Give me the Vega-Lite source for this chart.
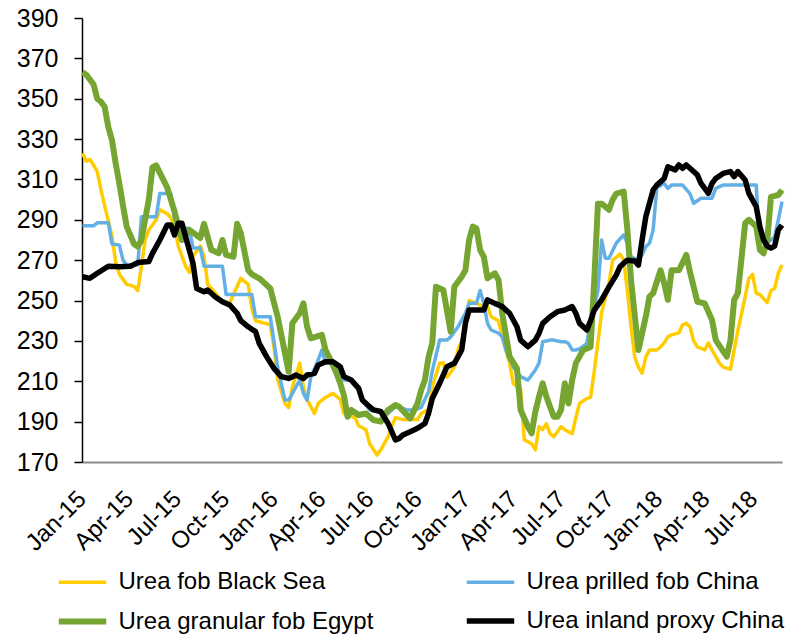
{
  "$schema": "https://vega.github.io/schema/vega-lite/v6.json",
  "width": 700,
  "height": 444,
  "autosize": {"type": "none"},
  "padding": {"left": 82, "top": 18, "right": 4, "bottom": 172},
  "background": "white",
  "config": {
    "font": "Liberation Sans",
    "view": {"stroke": null}
  },
  "data": {
    "values": [
      {"date": "2015-01-02", "series": "Urea fob Black Sea", "price": 323},
      {"date": "2015-01-09", "series": "Urea fob Black Sea", "price": 319},
      {"date": "2015-01-16", "series": "Urea fob Black Sea", "price": 320},
      {"date": "2015-01-30", "series": "Urea fob Black Sea", "price": 314},
      {"date": "2015-02-06", "series": "Urea fob Black Sea", "price": 305},
      {"date": "2015-02-13", "series": "Urea fob Black Sea", "price": 297},
      {"date": "2015-02-27", "series": "Urea fob Black Sea", "price": 282},
      {"date": "2015-03-06", "series": "Urea fob Black Sea", "price": 269},
      {"date": "2015-03-13", "series": "Urea fob Black Sea", "price": 263},
      {"date": "2015-03-27", "series": "Urea fob Black Sea", "price": 258},
      {"date": "2015-04-10", "series": "Urea fob Black Sea", "price": 257},
      {"date": "2015-04-17", "series": "Urea fob Black Sea", "price": 255},
      {"date": "2015-04-24", "series": "Urea fob Black Sea", "price": 267},
      {"date": "2015-05-01", "series": "Urea fob Black Sea", "price": 280},
      {"date": "2015-05-08", "series": "Urea fob Black Sea", "price": 285},
      {"date": "2015-05-22", "series": "Urea fob Black Sea", "price": 290},
      {"date": "2015-05-29", "series": "Urea fob Black Sea", "price": 295},
      {"date": "2015-06-12", "series": "Urea fob Black Sea", "price": 293},
      {"date": "2015-06-19", "series": "Urea fob Black Sea", "price": 291},
      {"date": "2015-06-26", "series": "Urea fob Black Sea", "price": 287},
      {"date": "2015-07-03", "series": "Urea fob Black Sea", "price": 277},
      {"date": "2015-07-17", "series": "Urea fob Black Sea", "price": 267},
      {"date": "2015-07-24", "series": "Urea fob Black Sea", "price": 264},
      {"date": "2015-07-31", "series": "Urea fob Black Sea", "price": 272},
      {"date": "2015-08-14", "series": "Urea fob Black Sea", "price": 277},
      {"date": "2015-08-21", "series": "Urea fob Black Sea", "price": 272},
      {"date": "2015-08-28", "series": "Urea fob Black Sea", "price": 258},
      {"date": "2015-09-11", "series": "Urea fob Black Sea", "price": 254},
      {"date": "2015-09-25", "series": "Urea fob Black Sea", "price": 249},
      {"date": "2015-10-09", "series": "Urea fob Black Sea", "price": 249},
      {"date": "2015-10-23", "series": "Urea fob Black Sea", "price": 257},
      {"date": "2015-10-30", "series": "Urea fob Black Sea", "price": 261},
      {"date": "2015-11-13", "series": "Urea fob Black Sea", "price": 258},
      {"date": "2015-11-20", "series": "Urea fob Black Sea", "price": 246},
      {"date": "2015-11-27", "series": "Urea fob Black Sea", "price": 240},
      {"date": "2015-12-11", "series": "Urea fob Black Sea", "price": 239},
      {"date": "2015-12-25", "series": "Urea fob Black Sea", "price": 238},
      {"date": "2016-01-01", "series": "Urea fob Black Sea", "price": 227},
      {"date": "2016-01-08", "series": "Urea fob Black Sea", "price": 211},
      {"date": "2016-01-22", "series": "Urea fob Black Sea", "price": 199},
      {"date": "2016-01-29", "series": "Urea fob Black Sea", "price": 197},
      {"date": "2016-02-05", "series": "Urea fob Black Sea", "price": 207},
      {"date": "2016-02-19", "series": "Urea fob Black Sea", "price": 219},
      {"date": "2016-02-26", "series": "Urea fob Black Sea", "price": 207},
      {"date": "2016-03-04", "series": "Urea fob Black Sea", "price": 201},
      {"date": "2016-03-18", "series": "Urea fob Black Sea", "price": 194},
      {"date": "2016-03-25", "series": "Urea fob Black Sea", "price": 199},
      {"date": "2016-04-08", "series": "Urea fob Black Sea", "price": 202},
      {"date": "2016-04-22", "series": "Urea fob Black Sea", "price": 204},
      {"date": "2016-05-06", "series": "Urea fob Black Sea", "price": 201},
      {"date": "2016-05-13", "series": "Urea fob Black Sea", "price": 194},
      {"date": "2016-06-03", "series": "Urea fob Black Sea", "price": 192},
      {"date": "2016-06-10", "series": "Urea fob Black Sea", "price": 188},
      {"date": "2016-06-24", "series": "Urea fob Black Sea", "price": 186},
      {"date": "2016-07-01", "series": "Urea fob Black Sea", "price": 179},
      {"date": "2016-07-15", "series": "Urea fob Black Sea", "price": 173.5},
      {"date": "2016-07-22", "series": "Urea fob Black Sea", "price": 176},
      {"date": "2016-08-05", "series": "Urea fob Black Sea", "price": 182.5},
      {"date": "2016-08-12", "series": "Urea fob Black Sea", "price": 187.5},
      {"date": "2016-08-19", "series": "Urea fob Black Sea", "price": 192},
      {"date": "2016-09-02", "series": "Urea fob Black Sea", "price": 191},
      {"date": "2016-09-16", "series": "Urea fob Black Sea", "price": 191},
      {"date": "2016-09-30", "series": "Urea fob Black Sea", "price": 191},
      {"date": "2016-10-07", "series": "Urea fob Black Sea", "price": 194},
      {"date": "2016-10-21", "series": "Urea fob Black Sea", "price": 196},
      {"date": "2016-10-28", "series": "Urea fob Black Sea", "price": 207},
      {"date": "2016-11-11", "series": "Urea fob Black Sea", "price": 219},
      {"date": "2016-11-18", "series": "Urea fob Black Sea", "price": 219},
      {"date": "2016-11-25", "series": "Urea fob Black Sea", "price": 212},
      {"date": "2016-12-09", "series": "Urea fob Black Sea", "price": 217},
      {"date": "2016-12-16", "series": "Urea fob Black Sea", "price": 225.5},
      {"date": "2016-12-30", "series": "Urea fob Black Sea", "price": 235},
      {"date": "2017-01-06", "series": "Urea fob Black Sea", "price": 250},
      {"date": "2017-01-20", "series": "Urea fob Black Sea", "price": 248.6},
      {"date": "2017-02-03", "series": "Urea fob Black Sea", "price": 247},
      {"date": "2017-02-10", "series": "Urea fob Black Sea", "price": 247},
      {"date": "2017-02-17", "series": "Urea fob Black Sea", "price": 242},
      {"date": "2017-03-03", "series": "Urea fob Black Sea", "price": 240},
      {"date": "2017-03-10", "series": "Urea fob Black Sea", "price": 232},
      {"date": "2017-03-24", "series": "Urea fob Black Sea", "price": 219},
      {"date": "2017-03-31", "series": "Urea fob Black Sea", "price": 209},
      {"date": "2017-04-14", "series": "Urea fob Black Sea", "price": 206},
      {"date": "2017-04-21", "series": "Urea fob Black Sea", "price": 181},
      {"date": "2017-05-05", "series": "Urea fob Black Sea", "price": 179},
      {"date": "2017-05-12", "series": "Urea fob Black Sea", "price": 176},
      {"date": "2017-05-19", "series": "Urea fob Black Sea", "price": 187.5},
      {"date": "2017-05-26", "series": "Urea fob Black Sea", "price": 186},
      {"date": "2017-06-02", "series": "Urea fob Black Sea", "price": 189},
      {"date": "2017-06-09", "series": "Urea fob Black Sea", "price": 184},
      {"date": "2017-06-16", "series": "Urea fob Black Sea", "price": 182.5},
      {"date": "2017-06-30", "series": "Urea fob Black Sea", "price": 187.5},
      {"date": "2017-07-07", "series": "Urea fob Black Sea", "price": 186},
      {"date": "2017-07-21", "series": "Urea fob Black Sea", "price": 184},
      {"date": "2017-07-28", "series": "Urea fob Black Sea", "price": 192},
      {"date": "2017-08-04", "series": "Urea fob Black Sea", "price": 199},
      {"date": "2017-08-18", "series": "Urea fob Black Sea", "price": 201.5},
      {"date": "2017-08-25", "series": "Urea fob Black Sea", "price": 202},
      {"date": "2017-09-01", "series": "Urea fob Black Sea", "price": 215},
      {"date": "2017-09-15", "series": "Urea fob Black Sea", "price": 244},
      {"date": "2017-09-29", "series": "Urea fob Black Sea", "price": 258.5},
      {"date": "2017-10-06", "series": "Urea fob Black Sea", "price": 270},
      {"date": "2017-10-20", "series": "Urea fob Black Sea", "price": 273},
      {"date": "2017-10-27", "series": "Urea fob Black Sea", "price": 270},
      {"date": "2017-11-03", "series": "Urea fob Black Sea", "price": 255},
      {"date": "2017-11-10", "series": "Urea fob Black Sea", "price": 237},
      {"date": "2017-11-17", "series": "Urea fob Black Sea", "price": 222},
      {"date": "2017-11-24", "series": "Urea fob Black Sea", "price": 217},
      {"date": "2017-12-01", "series": "Urea fob Black Sea", "price": 214},
      {"date": "2017-12-08", "series": "Urea fob Black Sea", "price": 222},
      {"date": "2017-12-15", "series": "Urea fob Black Sea", "price": 225.5},
      {"date": "2017-12-29", "series": "Urea fob Black Sea", "price": 225.5},
      {"date": "2018-01-05", "series": "Urea fob Black Sea", "price": 227},
      {"date": "2018-01-12", "series": "Urea fob Black Sea", "price": 229},
      {"date": "2018-01-19", "series": "Urea fob Black Sea", "price": 232},
      {"date": "2018-01-26", "series": "Urea fob Black Sea", "price": 233},
      {"date": "2018-02-09", "series": "Urea fob Black Sea", "price": 234},
      {"date": "2018-02-16", "series": "Urea fob Black Sea", "price": 238},
      {"date": "2018-02-23", "series": "Urea fob Black Sea", "price": 238.7},
      {"date": "2018-03-02", "series": "Urea fob Black Sea", "price": 237},
      {"date": "2018-03-09", "series": "Urea fob Black Sea", "price": 230},
      {"date": "2018-03-16", "series": "Urea fob Black Sea", "price": 227},
      {"date": "2018-03-30", "series": "Urea fob Black Sea", "price": 225.5},
      {"date": "2018-04-06", "series": "Urea fob Black Sea", "price": 229},
      {"date": "2018-04-13", "series": "Urea fob Black Sea", "price": 225.5},
      {"date": "2018-04-27", "series": "Urea fob Black Sea", "price": 219},
      {"date": "2018-05-04", "series": "Urea fob Black Sea", "price": 217},
      {"date": "2018-05-18", "series": "Urea fob Black Sea", "price": 216},
      {"date": "2018-05-25", "series": "Urea fob Black Sea", "price": 225.5},
      {"date": "2018-06-01", "series": "Urea fob Black Sea", "price": 235},
      {"date": "2018-06-15", "series": "Urea fob Black Sea", "price": 252},
      {"date": "2018-06-22", "series": "Urea fob Black Sea", "price": 261},
      {"date": "2018-06-29", "series": "Urea fob Black Sea", "price": 263},
      {"date": "2018-07-06", "series": "Urea fob Black Sea", "price": 253.6},
      {"date": "2018-07-13", "series": "Urea fob Black Sea", "price": 253},
      {"date": "2018-07-27", "series": "Urea fob Black Sea", "price": 249},
      {"date": "2018-08-03", "series": "Urea fob Black Sea", "price": 255},
      {"date": "2018-08-10", "series": "Urea fob Black Sea", "price": 256},
      {"date": "2018-08-17", "series": "Urea fob Black Sea", "price": 263.5},
      {"date": "2018-08-24", "series": "Urea fob Black Sea", "price": 267.6},

      {"date": "2015-01-02", "series": "Urea prilled fob China", "price": 287},
      {"date": "2015-01-23", "series": "Urea prilled fob China", "price": 287},
      {"date": "2015-01-30", "series": "Urea prilled fob China", "price": 288.5},
      {"date": "2015-02-20", "series": "Urea prilled fob China", "price": 288.5},
      {"date": "2015-02-27", "series": "Urea prilled fob China", "price": 278},
      {"date": "2015-03-13", "series": "Urea prilled fob China", "price": 277.5},
      {"date": "2015-03-20", "series": "Urea prilled fob China", "price": 270},
      {"date": "2015-03-27", "series": "Urea prilled fob China", "price": 267.6},
      {"date": "2015-04-17", "series": "Urea prilled fob China", "price": 267.6},
      {"date": "2015-04-24", "series": "Urea prilled fob China", "price": 291.5},
      {"date": "2015-05-22", "series": "Urea prilled fob China", "price": 291.5},
      {"date": "2015-05-29", "series": "Urea prilled fob China", "price": 303},
      {"date": "2015-06-19", "series": "Urea prilled fob China", "price": 303},
      {"date": "2015-06-26", "series": "Urea prilled fob China", "price": 290},
      {"date": "2015-07-03", "series": "Urea prilled fob China", "price": 286},
      {"date": "2015-07-24", "series": "Urea prilled fob China", "price": 285.7},
      {"date": "2015-07-31", "series": "Urea prilled fob China", "price": 276},
      {"date": "2015-08-14", "series": "Urea prilled fob China", "price": 276},
      {"date": "2015-08-21", "series": "Urea prilled fob China", "price": 267},
      {"date": "2015-09-25", "series": "Urea prilled fob China", "price": 267},
      {"date": "2015-10-02", "series": "Urea prilled fob China", "price": 253},
      {"date": "2015-11-20", "series": "Urea prilled fob China", "price": 253},
      {"date": "2015-11-27", "series": "Urea prilled fob China", "price": 242},
      {"date": "2015-12-25", "series": "Urea prilled fob China", "price": 242},
      {"date": "2016-01-01", "series": "Urea prilled fob China", "price": 230},
      {"date": "2016-01-08", "series": "Urea prilled fob China", "price": 217},
      {"date": "2016-01-22", "series": "Urea prilled fob China", "price": 200.7},
      {"date": "2016-01-29", "series": "Urea prilled fob China", "price": 200.7},
      {"date": "2016-02-05", "series": "Urea prilled fob China", "price": 204},
      {"date": "2016-02-19", "series": "Urea prilled fob China", "price": 210.6},
      {"date": "2016-02-26", "series": "Urea prilled fob China", "price": 204},
      {"date": "2016-03-04", "series": "Urea prilled fob China", "price": 200.7},
      {"date": "2016-03-11", "series": "Urea prilled fob China", "price": 212},
      {"date": "2016-03-25", "series": "Urea prilled fob China", "price": 220.5},
      {"date": "2016-04-01", "series": "Urea prilled fob China", "price": 225.5},
      {"date": "2016-04-08", "series": "Urea prilled fob China", "price": 219},
      {"date": "2016-04-22", "series": "Urea prilled fob China", "price": 219},
      {"date": "2016-04-29", "series": "Urea prilled fob China", "price": 217},
      {"date": "2016-05-13", "series": "Urea prilled fob China", "price": 210.6},
      {"date": "2016-05-27", "series": "Urea prilled fob China", "price": 210.6},
      {"date": "2016-06-10", "series": "Urea prilled fob China", "price": 207.3},
      {"date": "2016-06-17", "series": "Urea prilled fob China", "price": 200.7},
      {"date": "2016-07-01", "series": "Urea prilled fob China", "price": 195.8},
      {"date": "2016-07-15", "series": "Urea prilled fob China", "price": 195.8},
      {"date": "2016-07-29", "series": "Urea prilled fob China", "price": 194},
      {"date": "2016-08-05", "series": "Urea prilled fob China", "price": 194},
      {"date": "2016-08-19", "series": "Urea prilled fob China", "price": 197.4},
      {"date": "2016-08-26", "series": "Urea prilled fob China", "price": 197.4},
      {"date": "2016-09-09", "series": "Urea prilled fob China", "price": 195.8},
      {"date": "2016-09-23", "series": "Urea prilled fob China", "price": 195.8},
      {"date": "2016-10-07", "series": "Urea prilled fob China", "price": 197},
      {"date": "2016-10-21", "series": "Urea prilled fob China", "price": 205},
      {"date": "2016-10-28", "series": "Urea prilled fob China", "price": 215},
      {"date": "2016-11-11", "series": "Urea prilled fob China", "price": 230.4},
      {"date": "2016-11-25", "series": "Urea prilled fob China", "price": 230.4},
      {"date": "2016-12-02", "series": "Urea prilled fob China", "price": 232},
      {"date": "2016-12-16", "series": "Urea prilled fob China", "price": 237},
      {"date": "2016-12-30", "series": "Urea prilled fob China", "price": 243.7},
      {"date": "2017-01-06", "series": "Urea prilled fob China", "price": 248.6},
      {"date": "2017-01-20", "series": "Urea prilled fob China", "price": 248.6},
      {"date": "2017-01-27", "series": "Urea prilled fob China", "price": 255},
      {"date": "2017-02-03", "series": "Urea prilled fob China", "price": 248.6},
      {"date": "2017-02-10", "series": "Urea prilled fob China", "price": 238.7},
      {"date": "2017-02-17", "series": "Urea prilled fob China", "price": 235.4},
      {"date": "2017-03-03", "series": "Urea prilled fob China", "price": 233.8},
      {"date": "2017-03-10", "series": "Urea prilled fob China", "price": 232},
      {"date": "2017-03-17", "series": "Urea prilled fob China", "price": 225.5},
      {"date": "2017-03-31", "series": "Urea prilled fob China", "price": 217},
      {"date": "2017-04-14", "series": "Urea prilled fob China", "price": 212.3},
      {"date": "2017-04-28", "series": "Urea prilled fob China", "price": 210.6},
      {"date": "2017-05-12", "series": "Urea prilled fob China", "price": 215.6},
      {"date": "2017-05-19", "series": "Urea prilled fob China", "price": 219},
      {"date": "2017-05-26", "series": "Urea prilled fob China", "price": 229.6},
      {"date": "2017-06-09", "series": "Urea prilled fob China", "price": 230.4},
      {"date": "2017-06-16", "series": "Urea prilled fob China", "price": 230.4},
      {"date": "2017-06-30", "series": "Urea prilled fob China", "price": 229.6},
      {"date": "2017-07-07", "series": "Urea prilled fob China", "price": 229.6},
      {"date": "2017-07-14", "series": "Urea prilled fob China", "price": 228.8},
      {"date": "2017-07-21", "series": "Urea prilled fob China", "price": 225.5},
      {"date": "2017-07-28", "series": "Urea prilled fob China", "price": 225.5},
      {"date": "2017-08-04", "series": "Urea prilled fob China", "price": 226},
      {"date": "2017-08-18", "series": "Urea prilled fob China", "price": 228.8},
      {"date": "2017-08-25", "series": "Urea prilled fob China", "price": 241},
      {"date": "2017-09-01", "series": "Urea prilled fob China", "price": 247},
      {"date": "2017-09-08", "series": "Urea prilled fob China", "price": 255},
      {"date": "2017-09-15", "series": "Urea prilled fob China", "price": 280},
      {"date": "2017-09-22", "series": "Urea prilled fob China", "price": 271},
      {"date": "2017-09-29", "series": "Urea prilled fob China", "price": 271},
      {"date": "2017-10-13", "series": "Urea prilled fob China", "price": 278.5},
      {"date": "2017-10-27", "series": "Urea prilled fob China", "price": 282.5},
      {"date": "2017-11-03", "series": "Urea prilled fob China", "price": 278.4},
      {"date": "2017-11-10", "series": "Urea prilled fob China", "price": 271.7},
      {"date": "2017-11-24", "series": "Urea prilled fob China", "price": 270},
      {"date": "2017-12-01", "series": "Urea prilled fob China", "price": 272.6},
      {"date": "2017-12-08", "series": "Urea prilled fob China", "price": 276.7},
      {"date": "2017-12-15", "series": "Urea prilled fob China", "price": 278.4},
      {"date": "2017-12-22", "series": "Urea prilled fob China", "price": 285},
      {"date": "2017-12-29", "series": "Urea prilled fob China", "price": 306},
      {"date": "2018-01-12", "series": "Urea prilled fob China", "price": 308},
      {"date": "2018-01-19", "series": "Urea prilled fob China", "price": 305.6},
      {"date": "2018-01-26", "series": "Urea prilled fob China", "price": 307.2},
      {"date": "2018-02-16", "series": "Urea prilled fob China", "price": 307.2},
      {"date": "2018-03-02", "series": "Urea prilled fob China", "price": 303},
      {"date": "2018-03-09", "series": "Urea prilled fob China", "price": 298.2},
      {"date": "2018-03-23", "series": "Urea prilled fob China", "price": 300.7},
      {"date": "2018-04-13", "series": "Urea prilled fob China", "price": 300.7},
      {"date": "2018-04-20", "series": "Urea prilled fob China", "price": 305.6},
      {"date": "2018-05-04", "series": "Urea prilled fob China", "price": 307.2},
      {"date": "2018-07-06", "series": "Urea prilled fob China", "price": 307.2},
      {"date": "2018-07-13", "series": "Urea prilled fob China", "price": 275},
      {"date": "2018-07-20", "series": "Urea prilled fob China", "price": 275},
      {"date": "2018-07-27", "series": "Urea prilled fob China", "price": 278.4},
      {"date": "2018-08-10", "series": "Urea prilled fob China", "price": 281.6},
      {"date": "2018-08-17", "series": "Urea prilled fob China", "price": 290},
      {"date": "2018-08-24", "series": "Urea prilled fob China", "price": 299},

      {"date": "2015-01-02", "series": "Urea granular fob Egypt", "price": 363},
      {"date": "2015-01-09", "series": "Urea granular fob Egypt", "price": 362},
      {"date": "2015-01-23", "series": "Urea granular fob Egypt", "price": 357},
      {"date": "2015-01-30", "series": "Urea granular fob Egypt", "price": 350},
      {"date": "2015-02-06", "series": "Urea granular fob Egypt", "price": 348.5},
      {"date": "2015-02-13", "series": "Urea granular fob Egypt", "price": 346},
      {"date": "2015-02-20", "series": "Urea granular fob Egypt", "price": 336},
      {"date": "2015-02-27", "series": "Urea granular fob Egypt", "price": 329.5},
      {"date": "2015-03-06", "series": "Urea granular fob Egypt", "price": 318},
      {"date": "2015-03-13", "series": "Urea granular fob Egypt", "price": 308},
      {"date": "2015-03-20", "series": "Urea granular fob Egypt", "price": 297},
      {"date": "2015-03-27", "series": "Urea granular fob Egypt", "price": 286.6},
      {"date": "2015-04-10", "series": "Urea granular fob Egypt", "price": 278},
      {"date": "2015-04-17", "series": "Urea granular fob Egypt", "price": 276.7},
      {"date": "2015-04-24", "series": "Urea granular fob Egypt", "price": 280},
      {"date": "2015-05-08", "series": "Urea granular fob Egypt", "price": 300},
      {"date": "2015-05-15", "series": "Urea granular fob Egypt", "price": 316},
      {"date": "2015-05-22", "series": "Urea granular fob Egypt", "price": 317},
      {"date": "2015-06-05", "series": "Urea granular fob Egypt", "price": 309.7},
      {"date": "2015-06-12", "series": "Urea granular fob Egypt", "price": 306},
      {"date": "2015-06-26", "series": "Urea granular fob Egypt", "price": 294},
      {"date": "2015-07-10", "series": "Urea granular fob Egypt", "price": 280},
      {"date": "2015-07-24", "series": "Urea granular fob Egypt", "price": 285},
      {"date": "2015-08-14", "series": "Urea granular fob Egypt", "price": 281},
      {"date": "2015-08-21", "series": "Urea granular fob Egypt", "price": 288},
      {"date": "2015-09-04", "series": "Urea granular fob Egypt", "price": 275},
      {"date": "2015-09-18", "series": "Urea granular fob Egypt", "price": 273.5},
      {"date": "2015-09-25", "series": "Urea granular fob Egypt", "price": 280},
      {"date": "2015-10-02", "series": "Urea granular fob Egypt", "price": 272.6},
      {"date": "2015-10-16", "series": "Urea granular fob Egypt", "price": 271.7},
      {"date": "2015-10-23", "series": "Urea granular fob Egypt", "price": 288},
      {"date": "2015-10-30", "series": "Urea granular fob Egypt", "price": 283.3},
      {"date": "2015-11-13", "series": "Urea granular fob Egypt", "price": 265},
      {"date": "2015-11-20", "series": "Urea granular fob Egypt", "price": 263},
      {"date": "2015-11-27", "series": "Urea granular fob Egypt", "price": 262},
      {"date": "2015-12-04", "series": "Urea granular fob Egypt", "price": 261},
      {"date": "2015-12-18", "series": "Urea granular fob Egypt", "price": 257.7},
      {"date": "2015-12-25", "series": "Urea granular fob Egypt", "price": 256},
      {"date": "2016-01-08", "series": "Urea granular fob Egypt", "price": 242},
      {"date": "2016-01-22", "series": "Urea granular fob Egypt", "price": 223.8},
      {"date": "2016-01-29", "series": "Urea granular fob Egypt", "price": 214.7},
      {"date": "2016-02-05", "series": "Urea granular fob Egypt", "price": 238.7},
      {"date": "2016-02-19", "series": "Urea granular fob Egypt", "price": 243.7},
      {"date": "2016-02-26", "series": "Urea granular fob Egypt", "price": 248.6},
      {"date": "2016-03-04", "series": "Urea granular fob Egypt", "price": 237},
      {"date": "2016-03-11", "series": "Urea granular fob Egypt", "price": 231.3},
      {"date": "2016-04-01", "series": "Urea granular fob Egypt", "price": 233},
      {"date": "2016-04-08", "series": "Urea granular fob Egypt", "price": 225.5},
      {"date": "2016-04-15", "series": "Urea granular fob Egypt", "price": 222},
      {"date": "2016-04-29", "series": "Urea granular fob Egypt", "price": 214},
      {"date": "2016-05-06", "series": "Urea granular fob Egypt", "price": 209},
      {"date": "2016-05-13", "series": "Urea granular fob Egypt", "price": 203},
      {"date": "2016-05-20", "series": "Urea granular fob Egypt", "price": 192.4},
      {"date": "2016-05-27", "series": "Urea granular fob Egypt", "price": 195.8},
      {"date": "2016-06-10", "series": "Urea granular fob Egypt", "price": 193.3},
      {"date": "2016-06-24", "series": "Urea granular fob Egypt", "price": 194},
      {"date": "2016-07-08", "series": "Urea granular fob Egypt", "price": 190.8},
      {"date": "2016-07-22", "series": "Urea granular fob Egypt", "price": 190},
      {"date": "2016-08-05", "series": "Urea granular fob Egypt", "price": 195.8},
      {"date": "2016-08-19", "series": "Urea granular fob Egypt", "price": 198.2},
      {"date": "2016-08-26", "series": "Urea granular fob Egypt", "price": 197.4},
      {"date": "2016-09-16", "series": "Urea granular fob Egypt", "price": 191.6},
      {"date": "2016-09-30", "series": "Urea granular fob Egypt", "price": 199},
      {"date": "2016-10-07", "series": "Urea granular fob Egypt", "price": 205.7},
      {"date": "2016-10-14", "series": "Urea granular fob Egypt", "price": 210.6},
      {"date": "2016-10-21", "series": "Urea granular fob Egypt", "price": 222},
      {"date": "2016-10-28", "series": "Urea granular fob Egypt", "price": 229},
      {"date": "2016-11-04", "series": "Urea granular fob Egypt", "price": 256.8},
      {"date": "2016-11-18", "series": "Urea granular fob Egypt", "price": 255.2},
      {"date": "2016-12-02", "series": "Urea granular fob Egypt", "price": 234.6},
      {"date": "2016-12-09", "series": "Urea granular fob Egypt", "price": 256.8},
      {"date": "2016-12-23", "series": "Urea granular fob Egypt", "price": 261.8},
      {"date": "2016-12-30", "series": "Urea granular fob Egypt", "price": 265},
      {"date": "2017-01-06", "series": "Urea granular fob Egypt", "price": 280},
      {"date": "2017-01-13", "series": "Urea granular fob Egypt", "price": 286.6},
      {"date": "2017-01-20", "series": "Urea granular fob Egypt", "price": 285.7},
      {"date": "2017-01-27", "series": "Urea granular fob Egypt", "price": 275},
      {"date": "2017-02-03", "series": "Urea granular fob Egypt", "price": 271.7},
      {"date": "2017-02-10", "series": "Urea granular fob Egypt", "price": 261},
      {"date": "2017-02-24", "series": "Urea granular fob Egypt", "price": 263.5},
      {"date": "2017-03-03", "series": "Urea granular fob Egypt", "price": 260.2},
      {"date": "2017-03-10", "series": "Urea granular fob Egypt", "price": 243.7},
      {"date": "2017-03-24", "series": "Urea granular fob Egypt", "price": 222.2},
      {"date": "2017-04-07", "series": "Urea granular fob Egypt", "price": 216.4},
      {"date": "2017-04-14", "series": "Urea granular fob Egypt", "price": 195.8},
      {"date": "2017-04-28", "series": "Urea granular fob Egypt", "price": 187.5},
      {"date": "2017-05-05", "series": "Urea granular fob Egypt", "price": 184.2},
      {"date": "2017-05-12", "series": "Urea granular fob Egypt", "price": 195},
      {"date": "2017-05-19", "series": "Urea granular fob Egypt", "price": 202.3},
      {"date": "2017-05-26", "series": "Urea granular fob Egypt", "price": 209},
      {"date": "2017-06-02", "series": "Urea granular fob Egypt", "price": 202.3},
      {"date": "2017-06-16", "series": "Urea granular fob Egypt", "price": 192.4},
      {"date": "2017-06-23", "series": "Urea granular fob Egypt", "price": 192.4},
      {"date": "2017-06-30", "series": "Urea granular fob Egypt", "price": 195.8},
      {"date": "2017-07-07", "series": "Urea granular fob Egypt", "price": 209},
      {"date": "2017-07-14", "series": "Urea granular fob Egypt", "price": 199},
      {"date": "2017-07-21", "series": "Urea granular fob Egypt", "price": 210.6},
      {"date": "2017-07-28", "series": "Urea granular fob Egypt", "price": 219},
      {"date": "2017-08-11", "series": "Urea granular fob Egypt", "price": 225.5},
      {"date": "2017-08-25", "series": "Urea granular fob Egypt", "price": 227},
      {"date": "2017-09-01", "series": "Urea granular fob Egypt", "price": 260},
      {"date": "2017-09-08", "series": "Urea granular fob Egypt", "price": 298},
      {"date": "2017-09-15", "series": "Urea granular fob Egypt", "price": 298},
      {"date": "2017-09-29", "series": "Urea granular fob Egypt", "price": 295},
      {"date": "2017-10-06", "series": "Urea granular fob Egypt", "price": 300},
      {"date": "2017-10-13", "series": "Urea granular fob Egypt", "price": 303},
      {"date": "2017-10-27", "series": "Urea granular fob Egypt", "price": 304},
      {"date": "2017-11-03", "series": "Urea granular fob Egypt", "price": 285},
      {"date": "2017-11-10", "series": "Urea granular fob Egypt", "price": 260},
      {"date": "2017-11-24", "series": "Urea granular fob Egypt", "price": 225.5},
      {"date": "2017-12-08", "series": "Urea granular fob Egypt", "price": 242},
      {"date": "2017-12-15", "series": "Urea granular fob Egypt", "price": 252},
      {"date": "2017-12-22", "series": "Urea granular fob Egypt", "price": 253.6},
      {"date": "2018-01-05", "series": "Urea granular fob Egypt", "price": 265},
      {"date": "2018-01-12", "series": "Urea granular fob Egypt", "price": 258.5},
      {"date": "2018-01-19", "series": "Urea granular fob Egypt", "price": 250.3},
      {"date": "2018-01-26", "series": "Urea granular fob Egypt", "price": 265},
      {"date": "2018-02-09", "series": "Urea granular fob Egypt", "price": 265},
      {"date": "2018-02-23", "series": "Urea granular fob Egypt", "price": 272.6},
      {"date": "2018-03-02", "series": "Urea granular fob Egypt", "price": 264.3},
      {"date": "2018-03-16", "series": "Urea granular fob Egypt", "price": 249.4},
      {"date": "2018-03-30", "series": "Urea granular fob Egypt", "price": 248.6},
      {"date": "2018-04-13", "series": "Urea granular fob Egypt", "price": 240.3},
      {"date": "2018-04-20", "series": "Urea granular fob Egypt", "price": 230.4},
      {"date": "2018-05-11", "series": "Urea granular fob Egypt", "price": 222.2},
      {"date": "2018-05-18", "series": "Urea granular fob Egypt", "price": 230.4},
      {"date": "2018-05-25", "series": "Urea granular fob Egypt", "price": 250.3},
      {"date": "2018-06-01", "series": "Urea granular fob Egypt", "price": 253.6},
      {"date": "2018-06-15", "series": "Urea granular fob Egypt", "price": 288.3},
      {"date": "2018-06-22", "series": "Urea granular fob Egypt", "price": 290},
      {"date": "2018-07-06", "series": "Urea granular fob Egypt", "price": 286.6},
      {"date": "2018-07-13", "series": "Urea granular fob Egypt", "price": 275},
      {"date": "2018-07-20", "series": "Urea granular fob Egypt", "price": 273.4},
      {"date": "2018-07-27", "series": "Urea granular fob Egypt", "price": 280},
      {"date": "2018-08-03", "series": "Urea granular fob Egypt", "price": 301.4},
      {"date": "2018-08-17", "series": "Urea granular fob Egypt", "price": 302.3},
      {"date": "2018-08-24", "series": "Urea granular fob Egypt", "price": 304.8},

      {"date": "2015-01-02", "series": "Urea inland proxy China", "price": 261.8},
      {"date": "2015-01-16", "series": "Urea inland proxy China", "price": 261},
      {"date": "2015-01-30", "series": "Urea inland proxy China", "price": 263.5},
      {"date": "2015-02-20", "series": "Urea inland proxy China", "price": 267},
      {"date": "2015-03-13", "series": "Urea inland proxy China", "price": 266.8},
      {"date": "2015-04-03", "series": "Urea inland proxy China", "price": 267},
      {"date": "2015-04-17", "series": "Urea inland proxy China", "price": 268.8},
      {"date": "2015-05-08", "series": "Urea inland proxy China", "price": 269.3},
      {"date": "2015-05-15", "series": "Urea inland proxy China", "price": 273.4},
      {"date": "2015-05-29", "series": "Urea inland proxy China", "price": 280},
      {"date": "2015-06-12", "series": "Urea inland proxy China", "price": 287.4},
      {"date": "2015-06-19", "series": "Urea inland proxy China", "price": 287.4},
      {"date": "2015-06-26", "series": "Urea inland proxy China", "price": 282.5},
      {"date": "2015-07-03", "series": "Urea inland proxy China", "price": 288.3},
      {"date": "2015-07-10", "series": "Urea inland proxy China", "price": 288.3},
      {"date": "2015-07-17", "series": "Urea inland proxy China", "price": 281.6},
      {"date": "2015-07-31", "series": "Urea inland proxy China", "price": 268.5},
      {"date": "2015-08-07", "series": "Urea inland proxy China", "price": 256},
      {"date": "2015-08-21", "series": "Urea inland proxy China", "price": 254.4},
      {"date": "2015-08-28", "series": "Urea inland proxy China", "price": 255.2},
      {"date": "2015-09-11", "series": "Urea inland proxy China", "price": 251.9},
      {"date": "2015-09-25", "series": "Urea inland proxy China", "price": 249.4},
      {"date": "2015-10-09", "series": "Urea inland proxy China", "price": 247.8},
      {"date": "2015-10-23", "series": "Urea inland proxy China", "price": 243.7},
      {"date": "2015-10-30", "series": "Urea inland proxy China", "price": 240},
      {"date": "2015-11-13", "series": "Urea inland proxy China", "price": 237},
      {"date": "2015-11-27", "series": "Urea inland proxy China", "price": 234.6},
      {"date": "2015-12-04", "series": "Urea inland proxy China", "price": 228.8},
      {"date": "2015-12-18", "series": "Urea inland proxy China", "price": 222.2},
      {"date": "2016-01-01", "series": "Urea inland proxy China", "price": 216.4},
      {"date": "2016-01-15", "series": "Urea inland proxy China", "price": 212.3},
      {"date": "2016-01-29", "series": "Urea inland proxy China", "price": 211.4},
      {"date": "2016-02-12", "series": "Urea inland proxy China", "price": 213.1},
      {"date": "2016-02-26", "series": "Urea inland proxy China", "price": 211.4},
      {"date": "2016-03-04", "series": "Urea inland proxy China", "price": 213.1},
      {"date": "2016-03-18", "series": "Urea inland proxy China", "price": 213.9},
      {"date": "2016-03-25", "series": "Urea inland proxy China", "price": 218},
      {"date": "2016-04-08", "series": "Urea inland proxy China", "price": 219.7},
      {"date": "2016-04-22", "series": "Urea inland proxy China", "price": 219.7},
      {"date": "2016-05-06", "series": "Urea inland proxy China", "price": 217.2},
      {"date": "2016-05-13", "series": "Urea inland proxy China", "price": 212.3},
      {"date": "2016-05-27", "series": "Urea inland proxy China", "price": 210.6},
      {"date": "2016-06-10", "series": "Urea inland proxy China", "price": 206.5},
      {"date": "2016-06-17", "series": "Urea inland proxy China", "price": 200.7},
      {"date": "2016-07-01", "series": "Urea inland proxy China", "price": 197.4},
      {"date": "2016-07-08", "series": "Urea inland proxy China", "price": 195.8},
      {"date": "2016-07-22", "series": "Urea inland proxy China", "price": 195},
      {"date": "2016-08-05", "series": "Urea inland proxy China", "price": 189.1},
      {"date": "2016-08-19", "series": "Urea inland proxy China", "price": 180.9},
      {"date": "2016-08-26", "series": "Urea inland proxy China", "price": 181.7},
      {"date": "2016-09-02", "series": "Urea inland proxy China", "price": 183.4},
      {"date": "2016-09-16", "series": "Urea inland proxy China", "price": 185},
      {"date": "2016-09-30", "series": "Urea inland proxy China", "price": 186.7},
      {"date": "2016-10-14", "series": "Urea inland proxy China", "price": 189.1},
      {"date": "2016-10-21", "series": "Urea inland proxy China", "price": 194.1},
      {"date": "2016-10-28", "series": "Urea inland proxy China", "price": 201.5},
      {"date": "2016-11-11", "series": "Urea inland proxy China", "price": 209},
      {"date": "2016-11-25", "series": "Urea inland proxy China", "price": 217.2},
      {"date": "2016-12-09", "series": "Urea inland proxy China", "price": 218.9},
      {"date": "2016-12-23", "series": "Urea inland proxy China", "price": 225.5},
      {"date": "2016-12-30", "series": "Urea inland proxy China", "price": 238.7},
      {"date": "2017-01-06", "series": "Urea inland proxy China", "price": 245.3},
      {"date": "2017-02-03", "series": "Urea inland proxy China", "price": 245.3},
      {"date": "2017-02-10", "series": "Urea inland proxy China", "price": 250.3},
      {"date": "2017-02-24", "series": "Urea inland proxy China", "price": 248.6},
      {"date": "2017-03-10", "series": "Urea inland proxy China", "price": 247},
      {"date": "2017-03-24", "series": "Urea inland proxy China", "price": 243.7},
      {"date": "2017-04-07", "series": "Urea inland proxy China", "price": 237},
      {"date": "2017-04-14", "series": "Urea inland proxy China", "price": 230.4},
      {"date": "2017-04-28", "series": "Urea inland proxy China", "price": 227.1},
      {"date": "2017-05-12", "series": "Urea inland proxy China", "price": 230.4},
      {"date": "2017-05-19", "series": "Urea inland proxy China", "price": 233.8},
      {"date": "2017-05-26", "series": "Urea inland proxy China", "price": 238.7},
      {"date": "2017-06-09", "series": "Urea inland proxy China", "price": 242},
      {"date": "2017-06-23", "series": "Urea inland proxy China", "price": 244.5},
      {"date": "2017-07-07", "series": "Urea inland proxy China", "price": 245.3},
      {"date": "2017-07-21", "series": "Urea inland proxy China", "price": 247},
      {"date": "2017-07-28", "series": "Urea inland proxy China", "price": 243.7},
      {"date": "2017-08-04", "series": "Urea inland proxy China", "price": 238.7},
      {"date": "2017-08-18", "series": "Urea inland proxy China", "price": 235.4},
      {"date": "2017-08-25", "series": "Urea inland proxy China", "price": 240},
      {"date": "2017-09-01", "series": "Urea inland proxy China", "price": 245.3},
      {"date": "2017-09-15", "series": "Urea inland proxy China", "price": 250.3},
      {"date": "2017-09-29", "series": "Urea inland proxy China", "price": 256.8},
      {"date": "2017-10-13", "series": "Urea inland proxy China", "price": 262.7},
      {"date": "2017-10-20", "series": "Urea inland proxy China", "price": 266.8},
      {"date": "2017-10-27", "series": "Urea inland proxy China", "price": 268.5},
      {"date": "2017-11-03", "series": "Urea inland proxy China", "price": 270},
      {"date": "2017-11-17", "series": "Urea inland proxy China", "price": 269.6},
      {"date": "2017-11-24", "series": "Urea inland proxy China", "price": 267.6},
      {"date": "2017-12-01", "series": "Urea inland proxy China", "price": 280},
      {"date": "2017-12-08", "series": "Urea inland proxy China", "price": 291.5},
      {"date": "2017-12-22", "series": "Urea inland proxy China", "price": 304.8},
      {"date": "2017-12-29", "series": "Urea inland proxy China", "price": 307.2},
      {"date": "2018-01-12", "series": "Urea inland proxy China", "price": 310.5},
      {"date": "2018-01-19", "series": "Urea inland proxy China", "price": 316.3},
      {"date": "2018-02-02", "series": "Urea inland proxy China", "price": 314.7},
      {"date": "2018-02-09", "series": "Urea inland proxy China", "price": 317.2},
      {"date": "2018-02-16", "series": "Urea inland proxy China", "price": 315.5},
      {"date": "2018-02-23", "series": "Urea inland proxy China", "price": 317.2},
      {"date": "2018-03-09", "series": "Urea inland proxy China", "price": 313.9},
      {"date": "2018-03-16", "series": "Urea inland proxy China", "price": 312.3},
      {"date": "2018-03-23", "series": "Urea inland proxy China", "price": 308.1},
      {"date": "2018-04-06", "series": "Urea inland proxy China", "price": 303.1},
      {"date": "2018-04-13", "series": "Urea inland proxy China", "price": 308.1},
      {"date": "2018-04-20", "series": "Urea inland proxy China", "price": 310.5},
      {"date": "2018-05-04", "series": "Urea inland proxy China", "price": 313},
      {"date": "2018-05-18", "series": "Urea inland proxy China", "price": 313.9},
      {"date": "2018-05-25", "series": "Urea inland proxy China", "price": 311.4},
      {"date": "2018-06-01", "series": "Urea inland proxy China", "price": 313.9},
      {"date": "2018-06-15", "series": "Urea inland proxy China", "price": 309.7},
      {"date": "2018-06-22", "series": "Urea inland proxy China", "price": 303.1},
      {"date": "2018-07-06", "series": "Urea inland proxy China", "price": 296.5},
      {"date": "2018-07-13", "series": "Urea inland proxy China", "price": 286.6},
      {"date": "2018-07-20", "series": "Urea inland proxy China", "price": 280},
      {"date": "2018-07-27", "series": "Urea inland proxy China", "price": 277},
      {"date": "2018-08-03", "series": "Urea inland proxy China", "price": 276},
      {"date": "2018-08-10", "series": "Urea inland proxy China", "price": 277},
      {"date": "2018-08-17", "series": "Urea inland proxy China", "price": 285},
      {"date": "2018-08-24", "series": "Urea inland proxy China", "price": 287.4}
    ]
  },
  "mark": {"type": "line", "strokeJoin": "round", "strokeCap": "butt"},
  "encoding": {
    "x": {
      "field": "date",
      "type": "temporal",
      "scale": {"domain": ["2015-01-01", "2018-08-24"]},
      "axis": {
        "title": null,
        "grid": false,
        "ticks": false,
        "tickCount": {"interval": "month", "step": 3},
        "format": "%b-%y",
        "labelAngle": -45,
        "labelAlign": "right",
        "labelBaseline": "middle",
        "labelPadding": 33,
        "labelFontSize": 24,
        "labelColor": "black",
        "labelOverlap": false,
        "labelFlush": false,
        "domainColor": "#8c8c8c",
        "domainWidth": 2
      }
    },
    "y": {
      "field": "price",
      "type": "quantitative",
      "scale": {"domain": [170, 390], "nice": false, "zero": false},
      "axis": {
        "title": null,
        "grid": false,
        "values": [170, 190, 210, 230, 250, 270, 290, 310, 330, 350, 370, 390],
        "tickSize": 8,
        "tickColor": "black",
        "tickWidth": 1.5,
        "domainColor": "black",
        "domainWidth": 1.5,
        "labelPadding": 16,
        "labelFontSize": 25,
        "labelColor": "black",
        "labelOverlap": false
      }
    },
    "color": {
      "field": "series",
      "type": "nominal",
      "scale": {
        "domain": ["Urea fob Black Sea", "Urea granular fob Egypt", "Urea prilled fob China", "Urea inland proxy China"],
        "range": ["#FFCC00", "#76A532", "#63B0E6", "#000000"]
      },
      "legend": {
        "title": null,
        "orient": "none",
        "legendX": -26.5,
        "legendY": 538.5,
        "columns": 2,
        "columnPadding": 82,
        "rowPadding": 0,
        "padding": 0,
        "symbolType": "stroke",
        "symbolSize": 2250,
        "labelFontSize": 24,
        "labelColor": "black",
        "labelLimit": 400,
        "labelOffset": 9
      }
    },
    "strokeWidth": {
      "field": "series",
      "type": "ordinal",
      "scale": {
        "type": "ordinal",
        "domain": ["Urea fob Black Sea", "Urea granular fob Egypt", "Urea prilled fob China", "Urea inland proxy China"],
        "range": [3.5, 6, 3.5, 5.5]
      },
      "legend": {
        "title": null,
        "orient": "none",
        "legendX": -26.5,
        "legendY": 538.5,
        "columns": 2,
        "columnPadding": 82,
        "rowPadding": 0,
        "padding": 0,
        "symbolType": "stroke",
        "symbolSize": 2250,
        "labelFontSize": 24,
        "labelColor": "black",
        "labelLimit": 400,
        "labelOffset": 9
      }
    }
  }
}
